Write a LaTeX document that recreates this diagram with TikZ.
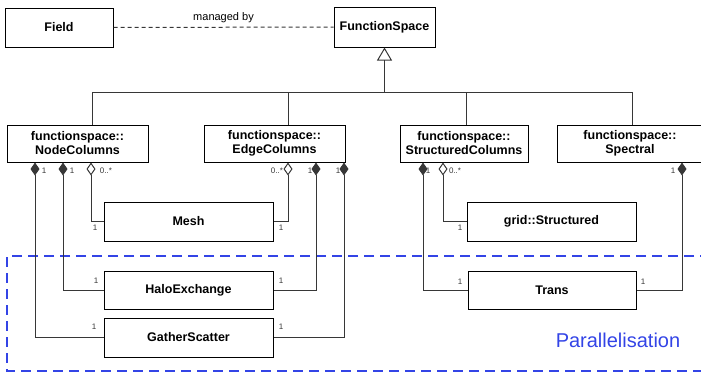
\documentclass[tikz,border=0pt]{standalone}
\usepackage{fontspec}
\setmainfont{Liberation Sans}
\usetikzlibrary{arrows.meta}
\definecolor{pblue}{RGB}{51,68,230}
\definecolor{lgray}{RGB}{55,55,55}
\begin{document}
\begin{tikzpicture}[x=1pt,y=-1pt,
  box/.style={draw=black, line width=1pt, fill=white, inner sep=0pt, align=center,
    font=\fontsize{12.5}{14}\selectfont\bfseries},
  conn/.style={draw=lgray, line width=1pt},
  comp/.style={conn, {Diamond[width=9pt,length=13pt]}-},
  aggr/.style={conn, {Diamond[open,width=9pt,length=13pt]}-},
  mult/.style={font=\fontsize{8}{9}\selectfont, text=lgray, inner sep=0pt},
  region/.style={draw=pblue, line width=2pt, dash pattern=on 10pt off 6pt},
]
\useasboundingbox (0,0) rectangle (701,372);

% parallelisation region
\draw[region] (710,256) -- (7,256) -- (7,371) -- (710,371);
\node[text=pblue, font=\fontsize{20}{22}\selectfont, inner sep=0pt] (par) at (618,340) {Parallelisation};

% boxes
\node[box, minimum width=108pt, minimum height=39pt] (field) at (59,27.5) {Field};
\node[box, minimum width=101pt, minimum height=40pt] (fs) at (384.5,27) {FunctionSpace};
\node[box, minimum width=141pt, minimum height=37pt] (nc) at (77.5,143.5) {functionspace::\\NodeColumns};
\node[box, minimum width=141pt, minimum height=37pt] (ec) at (274.5,143.5) {functionspace::\\EdgeColumns};
\node[box, minimum width=128pt, minimum height=37pt] (sc) at (464,143.5) {functionspace::\\StructuredColumns};
\node[box, minimum width=145pt, minimum height=37pt] (sp) at (630,143.5) {functionspace::\\Spectral};
\node[box, minimum width=169pt, minimum height=39pt] (mesh) at (188.5,221.5) {Mesh};
\node[box, minimum width=169pt, minimum height=38pt] (halo) at (188.5,290) {HaloExchange};
\node[box, minimum width=169pt, minimum height=39pt] (gs) at (188.5,337.5) {GatherScatter};
\node[box, minimum width=169pt, minimum height=39pt] (grid) at (551.5,221.5) {grid::Structured};
\node[box, minimum width=168pt, minimum height=38pt] (trans) at (552,290) {Trans};

% managed by
\draw[conn, dashed, dash pattern=on 4pt off 3pt] (field.east) -- (fs.west)
  node[midway, above=4pt, text=black, font=\fontsize{11}{12}\selectfont, inner sep=0pt] {managed by};

% inheritance bus
\coordinate (bl) at (92,92);
\coordinate (be) at (288,92);
\coordinate (bm) at (384.5,92);
\coordinate (bs) at (466,92);
\coordinate (br) at (632,92);
\draw[conn] (bl |- nc.north) -- (bl) -- (br) -- (br |- sp.north);
\draw[conn] (be) -- (be |- ec.north);
\draw[conn] (bs) -- (bs |- sc.north);
\draw[conn, -{Triangle[open,width=15pt,length=13pt]}] (bm) -- (fs.south);

% NodeColumns associations
\coordinate (n1) at (35,0);
\coordinate (n2) at (63,0);
\coordinate (n3) at (91,0);
\draw[comp] (n1 |- nc.south) |- (gs.west);
\draw[comp] (n2 |- nc.south) |- (halo.west);
\draw[aggr] (n3 |- nc.south) |- (mesh.west);
\node[mult] (m1) at (44,171) {1};
\node[mult] (m2) at (72,171) {1};
\node[mult] (m3) at (106,171) {0..*};
\node[mult] (m4) at (95,228) {1};
\node[mult] (m5) at (96,281) {1};
\node[mult] (m6) at (94,327) {1};

% EdgeColumns associations
\coordinate (e1) at (288,0);
\coordinate (e2) at (316,0);
\coordinate (e3) at (344,0);
\draw[aggr] (e1 |- ec.south) |- (mesh.east);
\draw[comp] (e2 |- ec.south) |- (halo.east);
\draw[comp] (e3 |- ec.south) |- (gs.east);
\node[mult] (m7) at (277,171) {0..*};
\node[mult] (m8) at (310,171) {1};
\node[mult] (m9) at (338,171) {1};
\node[mult] (m10) at (281,228) {1};
\node[mult] (m11) at (281,281) {1};
\node[mult] (m12) at (281,327) {1};

% StructuredColumns associations
\coordinate (s1) at (423,0);
\coordinate (s2) at (443,0);
\draw[comp] (s1 |- sc.south) |- (trans.west);
\draw[aggr] (s2 |- sc.south) |- (grid.west);
\node[mult] (m13) at (428,171) {1};
\node[mult] (m14) at (455,171) {0..*};
\node[mult] (m15) at (460,228) {1};
\node[mult] (m16) at (460,282) {1};

% Spectral association
\coordinate (p1) at (682,0);
\draw[comp] (p1 |- sp.south) |- (trans.east);
\node[mult] (m17) at (673,171) {1};
\node[mult] (m18) at (643,282) {1};
\end{tikzpicture}
\end{document}
